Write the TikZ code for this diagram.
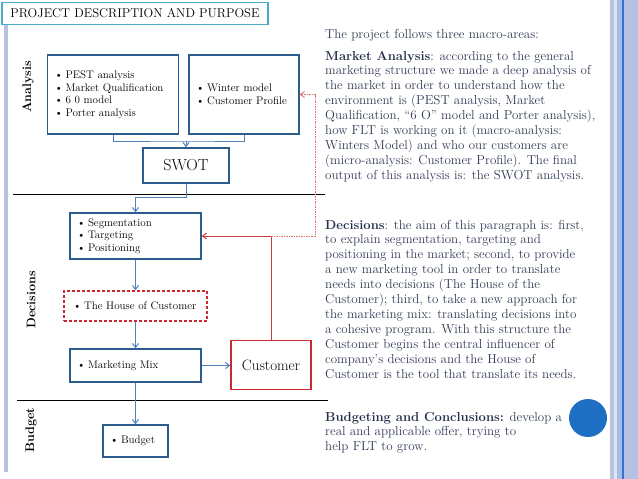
\documentclass[tikz,border=0pt]{standalone}
\usetikzlibrary{arrows.meta}
\definecolor{boxblue}{RGB}{44,92,140}
\definecolor{connblue}{RGB}{79,129,189}
\definecolor{custred}{RGB}{205,40,45}
\definecolor{linered}{RGB}{200,60,60}
\definecolor{dotred}{RGB}{225,110,110}
\definecolor{titlecyan}{RGB}{75,172,198}
\definecolor{barcol}{RGB}{184,194,224}
\definecolor{stripeA}{RGB}{184,196,216}
\definecolor{stripeB}{RGB}{221,227,240}
\definecolor{stripeC}{RGB}{164,189,232}
\definecolor{stripeD}{RGB}{58,111,200}
\definecolor{stripeE}{RGB}{180,192,228}
\definecolor{circblue}{RGB}{30,110,195}
\definecolor{bodytext}{RGB}{48,60,84}
\definecolor{boldtext}{RGB}{34,46,72}
\newcommand\bitem{\makebox[11pt][l]{\textbullet}}
\newcommand\diagfont{\fontsize{11}{12.5}\selectfont}
\newcommand\parafont{\fontsize{13}{14.9}\selectfont}
\begin{document}
\begin{tikzpicture}[x=1pt,y=-1pt,
  bbox/.style={draw=boxblue, line width=1.5pt, inner xsep=7pt, inner ysep=0pt,
    align=left, font=\diagfont, text=black},
  cbox/.style={draw=boxblue, line width=1.5pt, inner sep=0pt, text=black},
  conn/.style={draw=connblue, line width=1pt},
  arr/.style={-{Straight Barb[length=4pt,width=6pt]}},
  sect/.style={rotate=90, font=\bfseries\fontsize{12.5}{14}\selectfont},
  para/.style={anchor=base west, inner sep=0pt, align=left, font=\parafont, text=bodytext},
  sepline/.style={draw=black, line width=0.9pt}
]
\useasboundingbox (0,0) rectangle (638,479);
% right edge stripes
\fill[stripeA] (610,0) rectangle (614,479);
\fill[stripeB] (614,0) rectangle (617,479);
\fill[stripeC] (617,0) rectangle (622,479);
\fill[stripeD] (622,0) rectangle (623.5,479);
\fill[stripeE] (623.5,0) rectangle (638,479);
% left bar
\fill[barcol] (4,20) rectangle (7.5,472);
% title
\node[draw=titlecyan, line width=1.5pt, fill=white, minimum width=266pt,
  minimum height=22pt, inner sep=0pt, font=\fontsize{12.7}{14}\selectfont] (title)
  at (135,13.5) {PROJECT DESCRIPTION AND PURPOSE};
% section labels
\node[sect] (lanalysis) at (28,87) {Analysis};
\node[sect] (ldecisions) at (31,300) {Decisions};
\node[sect] (lbudget) at (31,430) {Budget};
% separators
\coordinate (s1a) at (13,194); \coordinate (s1b) at (325,194);
\coordinate (s2a) at (17,400); \coordinate (s2b) at (328,400);
\draw[sepline] (s1a) -- (s1b);
\draw[sepline] (s2a) -- (s2b);
% boxes
\node[bbox, text width=117pt, minimum height=79pt] (box1) at (113,94.5)
  {\bitem PEST analysis\\ \bitem Market Qualification\\ \bitem 6 0 model\\ \bitem Porter analysis};
\node[bbox, text width=96pt, minimum height=79pt] (box2) at (244,94.5)
  {\bitem Winter model\\ \bitem Customer Profile};
\node[cbox, minimum width=86pt, minimum height=35pt, font=\fontsize{16}{18}\selectfont] (swot) at (186,165.5) {SWOT};
\node[bbox, text width=117pt, minimum height=46pt] (seg) at (135.5,236)
  {\bitem Segmentation\\ \bitem Targeting\\ \bitem Positioning};
\node[bbox, draw=custred, dash pattern=on 3pt off 2pt, inner xsep=9pt, text width=125pt, minimum height=30pt] (house) at (135.5,306)
  {\bitem The House of Customer};
\node[bbox, text width=117pt, minimum height=33pt] (mix) at (135.5,365.5)
  {\bitem Marketing Mix};
\node[cbox, draw=custred, minimum width=80pt, minimum height=49pt, font=\fontsize{15}{17}\selectfont] (cust) at (271,365) {Customer};
\node[bbox, text width=51pt, minimum height=32pt] (budget) at (135.5,441)
  {\bitem Budget};
% connectors
\coordinate (j1) at (186,141);
\draw[conn] (box1.south) |- (j1) -| (box2.south);
\draw[conn,arr] (j1) -- (swot.north);
\coordinate (j2) at (135.5,197);
\draw[conn,arr] (swot.south) |- (j2) -- (seg.north);
\draw[conn,arr] (seg.south) -- (house.north);
\draw[conn,arr] (house.south) -- (mix.north);
\draw[conn,arr] (mix.east) -- (mix.east -| cust.west);
\draw[conn,arr] (mix.south) -- (budget.north);
\draw[draw=linered, line width=1pt, arr] (cust.north) |- (seg.east);
\coordinate (d1) at (315,236);
\draw[draw=dotred, line width=0.9pt, dash pattern=on 1.5pt off 1pt, arr] (cust.north |- seg.east) -- (d1) |- (box2.east);
% right text (base anchor = last line)
\node[para] (p0) at (325,38.5) {The project follows three macro-areas:};
\node[para] (p1) at (325,179.2) {{\bfseries\color{boldtext}Market Analysis}: according to the general\\
marketing structure we made a deep analysis of\\
the market in order to understand how the\\
environment is (PEST analysis, Market\\
Qualification, \textquotedblleft6 O\textquotedblright\ model and Porter analysis),\\
how FLT is working on it (macro-analysis:\\
Winters Model) and who our customers are\\
(micro-analysis: Customer Profile). The final\\
output of this analysis is: the SWOT analysis.};
\node[para] (p2) at (325,378) {{\bfseries\color{boldtext}Decisions}: the aim of this paragraph is: first,\\
to explain segmentation, targeting and\\
positioning in the market; second, to provide\\
a new marketing tool in order to translate\\
needs into decisions (The House of the\\
Customer); third, to take a new approach for\\
the marketing mix: translating decisions into\\
a cohesive program. With this structure the\\
Customer begins the central influencer of\\
company's decisions and the House of\\
Customer is the tool that translate its needs.};
\node[para] (p3) at (325,450.8) {{\bfseries\color{boldtext}Budgeting and Conclusions:} develop a\\
real and applicable offer, trying to\\
help FLT to grow.};
\node[circle, fill=circblue, minimum size=38pt, inner sep=0pt] (dot) at (588,418) {};
\end{tikzpicture}
\end{document}
